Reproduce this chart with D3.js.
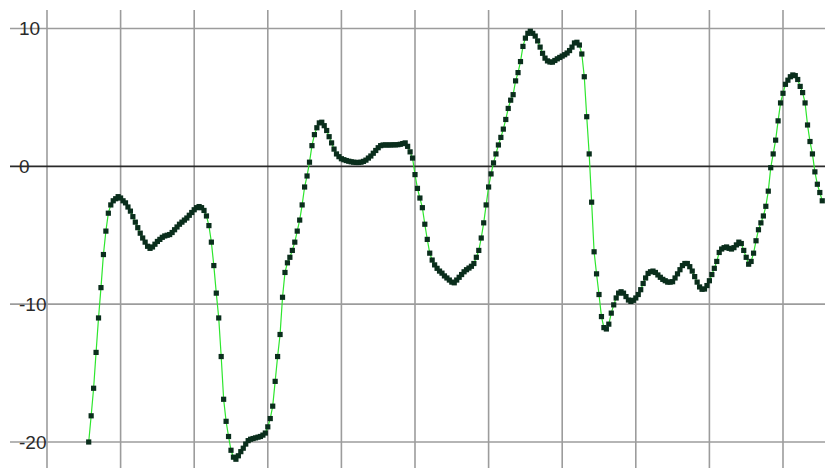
<!DOCTYPE html>
<html>
<head>
<meta charset="utf-8">
<script src="https://cdn.jsdelivr.net/npm/d3@7/dist/d3.min.js"></script>
<style>
  html, body { margin: 0; padding: 0; background: #ffffff; }
  svg { display: block; }
</style>
</head>
<body>
<div id="chart"></div>
<script>
// Sample index of the first reading; readings follow one per sample.
const firstSample = 17;

// Signal readings, one per sample (samples 17 .. 316).
const readings = [
  -20.0, -18.1, -16.1, -13.5, -11.0, -8.8, -6.4, -4.7, -3.4, -2.8, -2.5, -2.35, -2.2,
  -2.3, -2.5, -2.65, -2.95, -3.25, -3.65, -4.05, -4.45, -4.85, -5.2, -5.5, -5.8, -5.95,
  -5.85, -5.65, -5.45, -5.3, -5.15, -5.05, -5.0, -4.95, -4.8, -4.6, -4.4, -4.2, -4.05, -3.9,
  -3.75, -3.55, -3.35, -3.15, -3.0, -2.92, -3.0, -3.2, -3.6, -4.3,
  -5.5, -7.2, -9.2, -11.0, -13.8, -16.9, -18.5, -19.6, -20.6, -21.1, -21.25, -21.0, -20.7,
  -20.45, -20.15, -19.9, -19.8, -19.75, -19.7, -19.65, -19.6, -19.5, -19.35,
  -18.9, -18.3, -17.4, -15.6, -13.8, -12.2, -9.5, -7.7, -7.0, -6.6, -6.1, -5.5, -4.7, -3.9,
  -2.8, -1.5, -0.7, 0.3, 1.5, 2.3, 2.8, 3.15, 3.2,
  2.95, 2.6, 2.15, 1.7, 1.25, 0.9, 0.7, 0.55, 0.48, 0.42, 0.37, 0.33, 0.3, 0.28, 0.28,
  0.3, 0.36, 0.45, 0.6, 0.75, 0.95, 1.15, 1.35, 1.5, 1.55, 1.55, 1.55, 1.55, 1.56, 1.56,
  1.57, 1.6, 1.65, 1.7,
  1.45, 1.05, 0.6, -0.6, -1.6, -2.3, -3.0, -4.2, -5.3, -6.3, -6.8, -7.15, -7.4, -7.6, -7.75,
  -7.95, -8.1, -8.25, -8.4, -8.45, -8.25, -8.05, -7.85, -7.65, -7.5, -7.38, -7.25, -7.05,
  -6.6, -6.1, -5.2, -4.1, -2.8, -1.5, -0.55, 0.25,
  0.9, 1.55, 2.1, 2.7, 3.4, 4.2, 4.8, 5.2, 6.2, 6.8, 7.6, 8.7, 9.3, 9.65, 9.8, 9.65, 9.45,
  9.1, 8.65, 8.2, 7.85, 7.65, 7.57, 7.56, 7.68, 7.8, 7.9, 8.0, 8.1, 8.22, 8.4, 8.65, 8.95,
  9.0, 8.8, 8.15,
  6.5, 3.6, 0.9, -2.6, -6.2, -7.8, -9.3, -10.9, -11.7, -11.8, -11.45, -10.65, -10.05, -9.55,
  -9.2, -9.1, -9.2, -9.45, -9.7, -9.8, -9.72, -9.55, -9.3, -8.95, -8.5, -8.1, -7.77, -7.65,
  -7.6, -7.7, -7.88, -8.05, -8.2, -8.3, -8.4, -8.4, -8.37,
  -8.1, -7.8, -7.5, -7.2, -7.05, -7.05, -7.28, -7.6, -8.0, -8.4, -8.75, -8.92, -8.9, -8.65,
  -8.3, -7.85, -7.4, -6.9, -6.25, -6.0, -5.9, -5.85, -5.95, -6.0, -5.9, -5.7, -5.5, -5.6,
  -6.1, -6.6, -7.1, -6.9, -6.3, -5.4, -4.6,
  -4.1, -3.6, -2.9, -1.8, -0.1, 0.9, 1.9, 3.3, 4.6, 5.3, 5.95, 6.25, 6.5, 6.63, 6.58, 6.3,
  5.8, 5.35, 4.6, 3.0, 1.8, 0.9, -0.4, -1.3, -1.9, -2.5
];

// Vertical grid positions (sample index) and horizontal value ticks.
const sampleGrid = [0, 30, 60, 90, 120, 150, 180, 210, 240, 270, 300];
const valueTicks = [10, 0, -10, -20];
const tickLabels = ["10", "0", "-10", "-20"];

const width = 825, height = 468;

const x = d3.scaleLinear().domain([0, 300]).range([47, 783]);
const y = d3.scaleLinear().domain([-20, 10]).range([442, 28.5]);

const svg = d3.select("#chart").append("svg")
  .attr("width", width)
  .attr("height", height);

svg.append("rect")
  .attr("width", width).attr("height", height)
  .attr("fill", "#ffffff");

// vertical grid
svg.append("g")
  .selectAll("line")
  .data(sampleGrid)
  .join("line")
  .attr("x1", d => x(d)).attr("x2", d => x(d))
  .attr("y1", 10).attr("y2", height)
  .attr("stroke", "#9c9c9c")
  .attr("stroke-width", 1.6);

// horizontal grid; the zero line is drawn darker
svg.append("g")
  .selectAll("line")
  .data(valueTicks)
  .join("line")
  .attr("x1", 10).attr("x2", width)
  .attr("y1", d => y(d)).attr("y2", d => y(d))
  .attr("stroke", d => d === 0 ? "#2a2a2a" : "#9c9c9c")
  .attr("stroke-width", d => d === 0 ? 1.8 : 1.6);

// value labels sit on their grid lines
svg.append("g")
  .selectAll("text")
  .data(valueTicks)
  .join("text")
  .attr("x", 19)
  .attr("y", d => y(d))
  .attr("dy", "0.36em")
  .attr("font-family", "'Liberation Sans', Arial, sans-serif")
  .attr("font-size", 19)
  .attr("fill", "#2a2a2a")
  .text((d, i) => tickLabels[i]);

const points = readings.map((v, i) => ({ s: firstSample + i, v }));

// connecting line
svg.append("path")
  .datum(points)
  .attr("fill", "none")
  .attr("stroke", "#2ee62e")
  .attr("stroke-width", 1.2)
  .attr("d", d3.line().x(d => x(d.s)).y(d => y(d.v)));

// square markers
const size = 5.2;
svg.append("g")
  .selectAll("rect")
  .data(points)
  .join("rect")
  .attr("x", d => x(d.s) - size / 2)
  .attr("y", d => y(d.v) - size / 2)
  .attr("width", size)
  .attr("height", size)
  .attr("fill", "#0a2e1c");
</script>
</body>
</html>
